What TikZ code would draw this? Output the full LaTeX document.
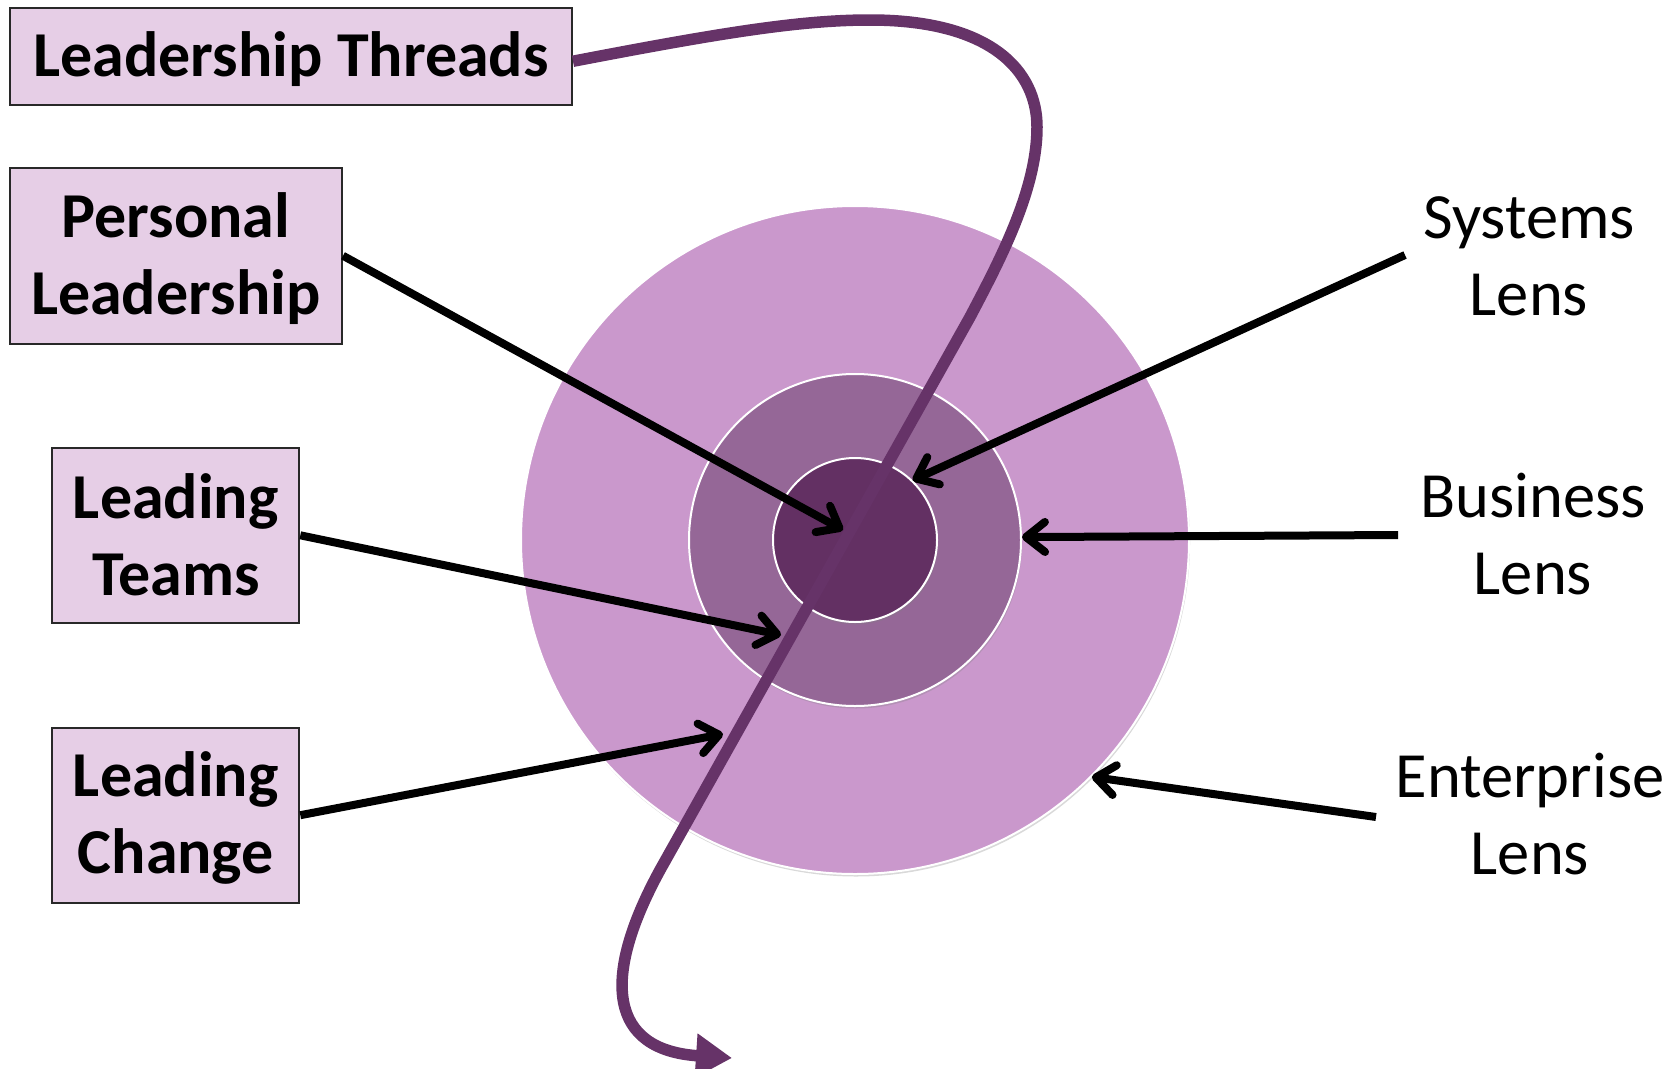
\documentclass[tikz,border=0pt]{standalone}
\usepackage{fontspec}
\setmainfont{Carlito}
\usetikzlibrary{arrows.meta,shadows,calc}
\definecolor{boxfill}{RGB}{230,206,230}
\definecolor{boxborder}{RGB}{40,40,40}
\definecolor{outerc}{RGB}{202,152,204}
\definecolor{midc}{RGB}{149,103,151}
\definecolor{innerc}{RGB}{99,48,99}
\definecolor{threadc}{RGB}{102,51,104}
\begin{document}
\begin{tikzpicture}[x=1pt,y=-1pt,
  box/.style={draw=boxborder, line width=2pt, fill=boxfill, inner sep=0pt, rectangle},
  lbl/.style={anchor=base, inner sep=0pt, font=\fontsize{64.5}{77}\selectfont},
  boxlbl/.style={lbl, font=\fontsize{64}{77}\selectfont\bfseries},
  circ/.style={circle, draw=white, line width=2pt, inner sep=0pt,
    drop shadow={opacity=0.3, shadow xshift=1pt, shadow yshift=-2.5pt}},
  arr/.style={line width=8pt, -{Straight Barb[length=19pt,width=30pt,round]}},
  thread/.style={line width=11.5pt, draw=threadc, -{Triangle[length=36pt,width=42pt]}}
]
\useasboundingbox (0,0) rectangle (1672,1068);
% circles
\node[circ, fill=outerc, minimum size=668pt] (outer) at (855,540) {};
\node[circ, fill=midc, minimum size=332pt] (mid) at (855,540) {};
\node[circ, fill=innerc, minimum size=164pt] (inner) at (855,540) {};
% boxes
\node[box, minimum width=562.5pt, minimum height=97.5pt] (lt) at (290.75,56.25) {};
\node[box, minimum width=332.5pt, minimum height=175.5pt] (pl) at (175.75,255.75) {};
\node[box, minimum width=247pt, minimum height=175pt] (tm) at (175.8,535.3) {};
\node[box, minimum width=247pt, minimum height=175pt] (ch) at (175.8,815.2) {};
% box texts
\node[boxlbl] (ltt) at (291,76.7) {Leadership Threads};
\node[boxlbl] (plt) at (175.75,237) {\begin{tabular}[t]{@{}c@{}}Personal\\Leadership\end{tabular}};
\node[boxlbl] (tmt) at (175.8,518) {\begin{tabular}[t]{@{}c@{}}Leading\\Teams\end{tabular}};
\node[boxlbl] (cht) at (175.8,796.7) {\begin{tabular}[t]{@{}c@{}}Leading\\Change\end{tabular}};
% right labels
\node[lbl] (sys) at (1529,238) {\begin{tabular}[t]{@{}c@{}}Systems\\Lens\end{tabular}};
\node[lbl] (bus) at (1533,517) {\begin{tabular}[t]{@{}c@{}}Business\\Lens\end{tabular}};
\node[lbl] (ent) at (1530,797) {\begin{tabular}[t]{@{}c@{}}Enterprise\\Lens\end{tabular}};
% thread
\coordinate (threadend) at (732,1058);
\draw[thread] ($(lt.east)+(0,5)$) .. controls (720,33) and (800,20) .. (870,20)
  .. controls (990,20) and (1037,70) .. (1037,127)
  .. controls (1037,190) and (1000,260) .. (970,317)
  -- (660,870) .. controls (600,980) and (610,1050) .. (threadend);
% arrow end points at the thread
\coordinate (plend) at (843,530);
\coordinate (tmend) at (781,635);
\coordinate (chend) at (723,734);
\coordinate (sysstart) at (1405,255);
\coordinate (busstart) at (1398,535);
\coordinate (entstart) at (1376,817);
% arrows
\draw[arr] (pl.east) -- (plend);
\draw[arr] (tm.east) -- (tmend);
\draw[arr] (ch.east) -- (chend);
\draw[arr] (sysstart) -- (inner.46);
\draw[arr] (busstart) -- (mid.1);
\draw[arr] (entstart) -- (outer.-45);
\end{tikzpicture}
\end{document}
